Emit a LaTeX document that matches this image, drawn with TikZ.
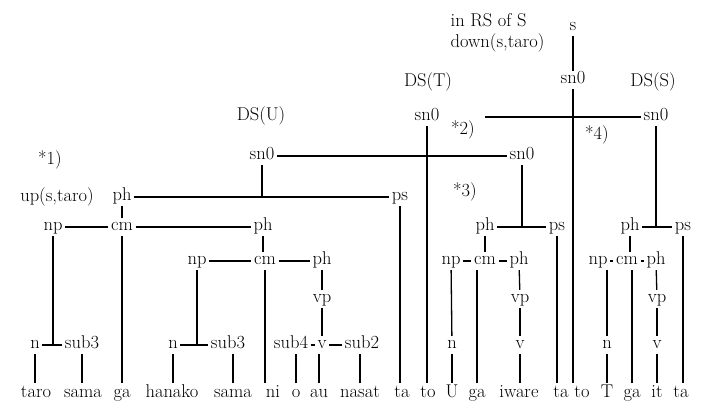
\documentclass[tikz,border=0pt]{standalone}
\usepackage{fontspec}
\usepackage{tikz}
\usetikzlibrary{positioning}

\begin{document}
\begin{tikzpicture}[x=1pt,y=-1pt,line width=1.3pt,
    lab/.style={inner xsep=2pt, inner ysep=2pt, text height=10pt, text depth=3pt, font=\fontsize{18.5}{22}\selectfont},
    word/.style={inner xsep=1pt, inner ysep=3pt, text height=10pt, text depth=4pt, font=\fontsize{18.5}{22}\selectfont},
    note/.style={inner sep=0pt, font=\fontsize{18.5}{22}\selectfont}]

\useasboundingbox (0,0) rectangle (703,403);

% remarks
\node[note, anchor=west] (inrs) at (450,20) {in RS of S};
\node[note, anchor=west] (down) at (450,43) {down(s,taro)};
\node[note] (dsT) at (428,82) {DS(T)};
\node[note] (dsS) at (653,82) {DS(S)};
\node[note] (dsU) at (261,116) {DS(U)};
\node[note] (star1) at (50,160) {*1)};
\node[note] (star2) at (463,130) {*2)};
\node[note] (star3) at (465,192) {*3)};
\node[note] (star4) at (597,135) {*4)};
\node[note] (up) at (57,197) {up(s,taro)};

% upper part
\node[lab] (s) at (573,27) {s};
\node[lab] (sn0M) at (573,80) {sn0};
\node[lab] (sn0T) at (427,117) {sn0};
\node[lab] (sn0S) at (656,117) {sn0};
\node[lab] (sn0U) at (262,156) {sn0};
\node[lab] (sn0C) at (522,156) {sn0};
\coordinate (lineS) at (485,117);

% tree of U
\node[lab] (phA) at (122,197) {ph};
\node[lab] (psA) at (400,197) {ps};
\node[lab] (npA) at (53,227) {np};
\node[lab] (cmA) at (122,227) {cm};
\node[lab] (phB) at (263,227) {ph};
\node[lab] (npB) at (197,261) {np};
\node[lab] (cmB) at (265,261) {cm};
\node[lab] (phC) at (322,261) {ph};
\node[lab] (vpA) at (322,299) {vp};
\node[lab] (nA) at (35,345) {n};
\node[lab] (subA) at (82,345) {sub3};
\node[lab] (nB) at (173,345) {n};
\node[lab] (subB) at (228,345) {sub3};
\node[lab] (subC) at (291,345) {sub4};
\node[lab] (vA) at (322,345) {v};
\node[lab] (subD) at (362,345) {sub2};

% tree of T
\node[lab] (phE) at (485,227) {ph};
\node[lab] (psE) at (557,227) {ps};
\node[lab] (npC) at (451,261) {np};
\node[lab] (cmC) at (485,261) {cm};
\node[lab] (phF) at (519,261) {ph};
\node[lab] (vpB) at (520,299) {vp};
\node[lab] (nC) at (452,345) {n};
\node[lab] (vB) at (520,345) {v};

% tree of S
\node[lab] (phD) at (630,227) {ph};
\node[lab] (psD) at (683,227) {ps};
\node[lab] (npD) at (598,261) {np};
\node[lab] (cmD) at (627,261) {cm};
\node[lab] (phG) at (656,261) {ph};
\node[lab] (vpC) at (657,299) {vp};
\node[lab] (nD) at (607,345) {n};
\node[lab] (vC) at (657,345) {v};

% sentence
\node[word] (taro) at (36,394) {taro};
\node[word] (sama1) at (83,394) {sama};
\node[word] (ga1) at (122,394) {ga};
\node[word] (hanako) at (172,394) {hanako};
\node[word] (sama2) at (233,394) {sama};
\node[word] (ni) at (273,394) {ni};
\node[word] (o) at (296,394) {o};
\node[word] (au) at (319,394) {au};
\node[word] (nasat) at (360,394) {nasat};
\node[word] (ta1) at (402,394) {ta};
\node[word] (to1) at (428,394) {to};
\node[word] (U) at (452,394) {U};
\node[word] (ga2) at (477,394) {ga};
\node[word] (iware) at (519,394) {iware};
\node[word] (ta2) at (561,394) {ta};
\node[word] (to2) at (582,394) {to};
\node[word] (T) at (607,394) {T};
\node[word] (ga3) at (632,394) {ga};
\node[word] (it) at (657,394) {it};
\node[word] (ta3) at (681,394) {ta};

% upper links
\draw (s) -- (sn0M);
\draw (sn0M) -- (sn0M |- to2.north);
\draw (sn0T) -- (sn0T |- to1.north);
\draw (lineS) -- (sn0S);
\draw (sn0S) -- (sn0S |- phD);
\draw (sn0U) -- (sn0C);
\draw (sn0U) -- (sn0U |- phA);
\draw (sn0C) -- (sn0C |- phE);

% links of U
\draw (phA) -- (psA);
\draw (psA) -- (psA |- ta1.north);
\draw (phA) -- (cmA);
\draw (npA) -- (cmA);
\draw (cmA) -- (phB);
\draw (npA) -- (npA |- nA);
\draw (nA) -- (subA);
\draw (nA) -- (nA |- taro.north);
\draw (subA) -- (subA |- sama1.north);
\draw (cmA) -- (cmA |- ga1.north);
\draw (phB) -- (phB |- cmB.north);
\draw (npB) -- (cmB);
\draw (cmB) -- (phC);
\draw (npB) -- (npB |- nB);
\draw (nB) -- (subB);
\draw (nB) -- (nB |- hanako.north);
\draw (sama2) -- (sama2 |- subB.south);
\draw (cmB) -- (cmB |- ni.north);
\draw (phC) -- (vpA);
\draw (vpA) -- (vA);
\draw (subC) -- (vA);
\draw (vA) -- (subD);
\draw (o) -- (o |- subC.south);
\draw (au) -- (au |- vA.south);
\draw (nasat) -- (nasat |- subD.south);

% links of T
\draw (phE) -- (psE);
\draw (psE) -- (psE |- ta2.north);
\draw (phE) -- (cmC);
\draw (npC) -- (cmC);
\draw (cmC) -- (phF);
\draw (npC) -- (nC);
\draw (nC) -- (nC |- U.north);
\draw (ga2) -- (ga2 |- cmC.south);
\draw (phF) -- (vpB);
\draw (vpB) -- (vB);
\draw (vB) -- (vB |- iware.north);

% links of S
\draw (phD) -- (psD);
\draw (psD) -- (psD |- ta3.north);
\draw (phD) -- (phD |- cmD.north);
\draw (npD) -- (cmD);
\draw (cmD) -- (phG);
\draw (nD) -- (nD |- npD.south);
\draw (nD) -- (nD |- T.north);
\draw (ga3) -- (ga3 |- cmD.south);
\draw (phG) -- (vpC);
\draw (vpC) -- (vC);
\draw (vC) -- (vC |- it.north);

\end{tikzpicture}
\end{document}
